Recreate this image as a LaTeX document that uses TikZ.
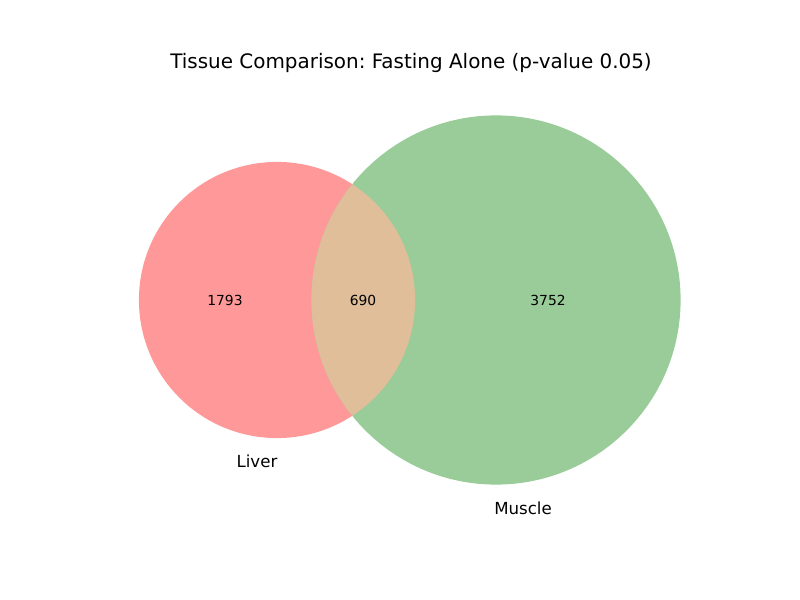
\documentclass[tikz,border=0pt]{standalone}
\usepackage{fontspec}
\setmainfont{DejaVu Sans}
\frenchspacing
\definecolor{liverred}{HTML}{FF9999}
\definecolor{musclegreen}{HTML}{99CC99}
\definecolor{overlaptan}{HTML}{DFBE99}

\begin{document}
\begin{tikzpicture}[x=0.01in,y=-0.01in]
  \useasboundingbox (0,0) rectangle (800,600);

  \node[shape=circle,fill=liverred,minimum size=2.76in,inner sep=0pt] (liver) at (277,300) {};
  \node[shape=circle,fill=musclegreen,minimum size=3.69in,inner sep=0pt] (muscle) at (496,300) {};
  \begin{scope}
    \clip (liver.center) circle (1.38in);
    \fill[overlaptan] (muscle.center) circle (1.845in);
  \end{scope}

  \node[font=\fontsize{10}{12}\selectfont] (onlyliver) at (225,300) {1793};
  \node[font=\fontsize{10}{12}\selectfont] (both) at (363,300) {690};
  \node[font=\fontsize{10}{12}\selectfont] (onlymuscle) at (548,300) {3752};

  \node[font=\fontsize{12}{14}\selectfont] (liverlabel) at (257,461) {Liver};
  \node[font=\fontsize{12}{14}\selectfont] (musclelabel) at (523,508) {Muscle};

  \node[font=\fontsize{14.4}{17}\selectfont] (title) at (411,63) {Tissue Comparison: Fasting Alone (p-value 0.05)};
\end{tikzpicture}
\end{document}
